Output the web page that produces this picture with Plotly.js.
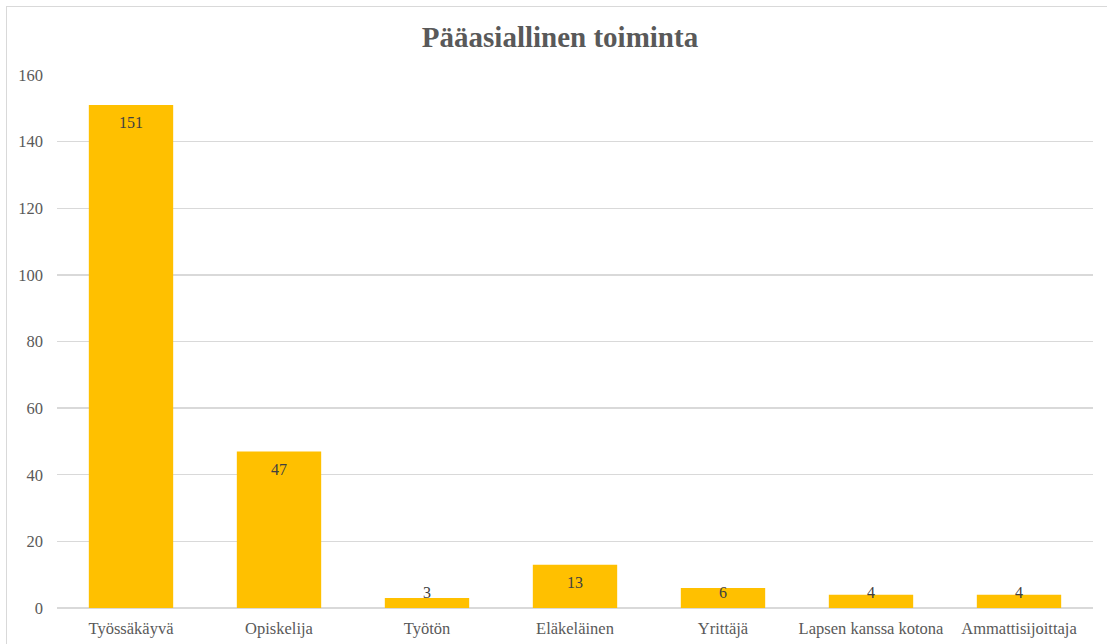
<!DOCTYPE html>
<html>
<head>
<meta charset="utf-8">
<script src="https://cdn.plot.ly/plotly-3.0.1.min.js"></script>
<style>
  html, body { margin: 0; padding: 0; background: #fff; }
  #wrap { position: relative; width: 1107px; height: 644px; overflow: hidden; }
  #chart { width: 1107px; height: 644px; }
  #frame { position: absolute; left: 6px; top: 6px; width: 1120px; height: 660px;
           border: 1.5px solid #d9d9d9; box-sizing: border-box; pointer-events: none; }
</style>
</head>
<body>
<div id="wrap">
  <div id="chart"></div>
  <div id="frame"></div>
</div>
<script>
const categories = ["Työssäkäyvä", "Opiskelija", "Työtön", "Eläkeläinen", "Yrittäjä", "Lapsen kanssa kotona", "Ammattisijoittaja"];
const values = [151, 47, 3, 13, 6, 4, 4];
const yTicks = [0, 20, 40, 60, 80, 100, 120, 140, 160];
const chartTitle = "Pääasiallinen toiminta";

const serif = "'Liberation Serif', 'Times New Roman', serif";

const trace = {
  type: "bar",
  x: categories,
  y: values,
  marker: { color: "#FFC000", line: { width: 0 } },
  hoverinfo: "x+y"
};

// data labels placed "inside end", clamped near the base for short bars
const pxPerUnit = (608 - 75) / 160;
const annotations = values.map((v, i) => ({
  x: categories[i],
  y: Math.max(v - 18 / pxPerUnit, 16 / pxPerUnit),
  xref: "x", yref: "y",
  text: String(v),
  showarrow: false,
  yanchor: "middle",
  font: { family: serif, size: 16, color: "#404040" }
}));

const layout = {
  width: 1107, height: 644,
  margin: { l: 57, r: 14, t: 75, b: 36, pad: 0 },
  paper_bgcolor: "#ffffff",
  plot_bgcolor: "#ffffff",
  showlegend: false,
  bargap: 0.43,
  title: {
    text: "<b>" + chartTitle + "</b>",
    font: { family: serif, size: 29, color: "#595959" },
    x: 560 / 1107, xref: "container", xanchor: "center",
    y: 1 - 37 / 644, yref: "container", yanchor: "middle"
  },
  xaxis: {
    type: "category",
    showgrid: false,
    zeroline: false,
    showline: false,
    ticks: "",
    tickfont: { family: serif, size: 16.5, color: "#595959" },
    ticklabelstandoff: 8
  },
  yaxis: {
    range: [0, 160],
    tickvals: yTicks,
    ticktext: yTicks.map(String),
    showgrid: true,
    gridcolor: "#d9d9d9",
    gridwidth: 1.3,
    zeroline: true,
    zerolinecolor: "#d9d9d9",
    zerolinewidth: 1.3,
    showline: false,
    ticks: "",
    tickfont: { family: serif, size: 16.5, color: "#595959" },
    ticklabelstandoff: 13
  },
  annotations: annotations
};

Plotly.newPlot("chart", [trace], layout, { displayModeBar: false, staticPlot: true });
</script>
</body>
</html>
